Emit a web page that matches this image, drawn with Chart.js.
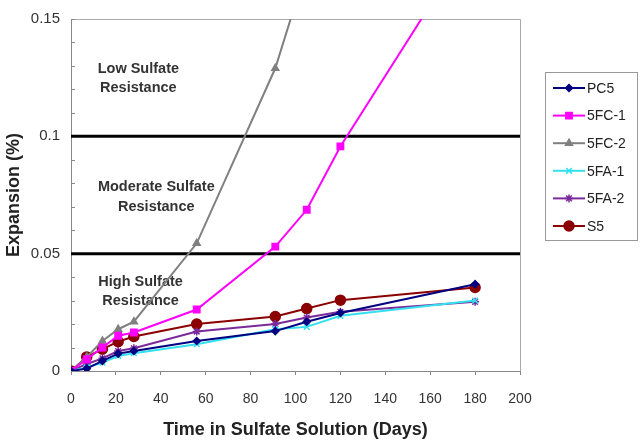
<!DOCTYPE html>
<html>
<head>
<meta charset="utf-8">
<script src="https://cdn.jsdelivr.net/npm/chart.js@4.4.1/dist/chart.umd.min.js"></script>
<style>
  html, body { margin: 0; padding: 0; background: #fff; }
  #wrap { position: relative; width: 642px; height: 441px; }
</style>
</head>
<body>
<div id="wrap"><canvas id="chart" width="642" height="441"></canvas></div>
<script>
// days of exposure
const days = [0, 7, 14, 21, 28, 56, 91, 105, 120, 180];

// expansion (%) per mix
const pc5 = [0, 0.001, 0.0043, 0.0074, 0.0085, 0.0128, 0.0170, 0.0210, 0.0247, 0.0370];
const fc1 = [0, 0.005, 0.0100, 0.0150, 0.0164, 0.0262, 0.0530, 0.0687, 0.0957, 0.186];
const fc2 = [0, 0.006, 0.0128, 0.0178, 0.0210, 0.0544, 0.1290, 0.172];
const fa1 = [0, 0.0015, 0.0036, 0.0064, 0.0076, 0.0114, 0.0178, 0.0188, 0.0235, 0.0300];
const fa2 = [0, 0.003, 0.0054, 0.0085, 0.0097, 0.0168, 0.0200, 0.0228, 0.0252, 0.0295];
const s5 = [0, 0.006, 0.0093, 0.0125, 0.0147, 0.0200, 0.0232, 0.0266, 0.0302, 0.0356];

// resistance class limits and labels
const limits = [0.05, 0.1];
const zoneLabels = [
  { lines: ["Low Sulfate", "Resistance"], x: 30, y: [0.1286, 0.1205] },
  { lines: ["Moderate Sulfate", "Resistance"], x: 38, y: [0.0786, 0.0700] },
  { lines: ["High Sulfate", "Resistance"], x: 31, y: [0.0380, 0.0300] }
];

const yTicks = [0, 0.05, 0.1, 0.15];
const xTicks = [0, 20, 40, 60, 80, 100, 120, 140, 160, 180, 200];

function pts(vals) {
  return vals.map((v, i) => ({ x: days[i], y: v }));
}

const series = [
  { label: "PC5", data: pc5, color: "#000080", style: "rectRot", r: 3.5 },
  { label: "5FC-1", data: fc1, color: "#ff00ff", style: "rect", r: 4.5 },
  { label: "5FC-2", data: fc2, color: "#808080", style: "triangle", r: 4 },
  { label: "5FA-1", data: fa1, color: "#33e0f0", style: "crossRot", r: 4 },
  { label: "5FA-2", data: fa2, color: "#7a2a9a", style: "star", r: 4 },
  { label: "S5", data: s5, color: "#8b0000", style: "circle", r: 5 }
];

const datasets = series.map(s => ({
  label: s.label,
  data: pts(s.data),
  borderColor: s.color,
  backgroundColor: s.color,
  pointStyle: s.style,
  pointRadius: s.r,
  pointBorderWidth: 1.5,
  borderWidth: 2,
  tension: 0
}));

const FONT = "'Liberation Sans', Arial, sans-serif";

// thick class lines, zone texts, frame, legend
const zonePlugin = {
  id: "zones",
  beforeDatasetsDraw(chart) {
    const { ctx, chartArea, scales } = chart;
    ctx.save();
    // frame top and right
    ctx.strokeStyle = "#aaa";
    ctx.lineWidth = 1;
    ctx.beginPath();
    ctx.moveTo(chartArea.left, chartArea.top + 0.5);
    ctx.lineTo(chartArea.right + 0.5, chartArea.top + 0.5);
    ctx.lineTo(chartArea.right + 0.5, chartArea.bottom);
    ctx.stroke();
    // inward minor ticks on y axis
    ctx.strokeStyle = "#888";
    for (let k = 0; k <= 15; k++) {
      const y = Math.round(scales.y.getPixelForValue(k / 100)) + 0.5;
      ctx.beginPath();
      ctx.moveTo(chartArea.left, y);
      ctx.lineTo(chartArea.left + 4, y);
      ctx.stroke();
    }
    ctx.strokeStyle = "#000";
    ctx.lineWidth = 3;
    limits.forEach(v => {
      const y = scales.y.getPixelForValue(v);
      ctx.beginPath();
      ctx.moveTo(chartArea.left, y);
      ctx.lineTo(chartArea.right, y);
      ctx.stroke();
    });
    ctx.fillStyle = "#333";
    ctx.font = "bold 14.5px " + FONT;
    ctx.textAlign = "center";
    ctx.textBaseline = "middle";
    zoneLabels.forEach(z => {
      z.lines.forEach((t, i) => {
        ctx.fillText(t, scales.x.getPixelForValue(z.x), scales.y.getPixelForValue(z.y[i]));
      });
    });
    ctx.restore();
  },
  afterDraw(chart) {
    const { ctx } = chart;
    const bx = 545, by = 72, bw = 92, bh = 168;
    ctx.save();
    ctx.strokeStyle = "#999";
    ctx.lineWidth = 1;
    ctx.fillStyle = "#fff";
    ctx.fillRect(bx + 0.5, by + 0.5, bw, bh);
    ctx.strokeRect(bx + 0.5, by + 0.5, bw, bh);
    ctx.font = "14px " + FONT;
    ctx.textBaseline = "middle";
    ctx.textAlign = "left";
    series.forEach((s, i) => {
      const y = by + 16 + i * 27.6;
      ctx.strokeStyle = s.color;
      ctx.lineWidth = 2;
      ctx.beginPath();
      ctx.moveTo(bx + 8, y);
      ctx.lineTo(bx + 40, y);
      ctx.stroke();
      ctx.fillStyle = s.color;
      ctx.lineWidth = 1.5;
      Chart.helpers.drawPoint(ctx, { pointStyle: s.style, radius: s.r, borderWidth: 1.5 }, bx + 24, y);
      ctx.fillStyle = "#222";
      ctx.fillText(s.label, bx + 42, y + 1);
    });
    ctx.restore();
  }
};

new Chart(document.getElementById("chart"), {
  type: "line",
  data: { datasets },
  options: {
    responsive: false,
    animation: false,
    layout: { padding: { top: 19, right: 122, left: 0, bottom: 0 } },
    plugins: { legend: { display: false }, tooltip: { enabled: false } },
    scales: {
      x: {
        type: "linear",
        min: 0,
        max: 200,
        afterBuildTicks: s => { s.ticks = xTicks.map(v => ({ value: v })); },
        afterFit: s => { s.height = 70; },
        border: { color: "#888", width: 1 },
        grid: { display: true, drawOnChartArea: false, tickLength: 4, color: "#888" },
        ticks: { color: "#333", font: { size: 14, family: FONT }, padding: 16, maxRotation: 0 },
        title: { display: true, text: "Time in Sulfate Solution (Days)", color: "#222", font: { size: 18, weight: "bold", family: FONT }, padding: { top: 4, bottom: 0 } }
      },
      y: {
        min: 0,
        max: 0.15,
        afterBuildTicks: s => { s.ticks = yTicks.map(v => ({ value: v })); },
        afterFit: s => { s.width = 71; },
        border: { color: "#888", width: 1 },
        grid: { display: false },
        ticks: { color: "#333", font: { size: 15, family: FONT }, padding: 3, callback: v => String(v) },
        title: { display: true, text: "Expansion (%)", color: "#222", font: { size: 18, weight: "bold", family: FONT }, padding: { top: 3, bottom: 0 } }
      }
    }
  },
  plugins: [zonePlugin]
});
</script>
</body>
</html>
